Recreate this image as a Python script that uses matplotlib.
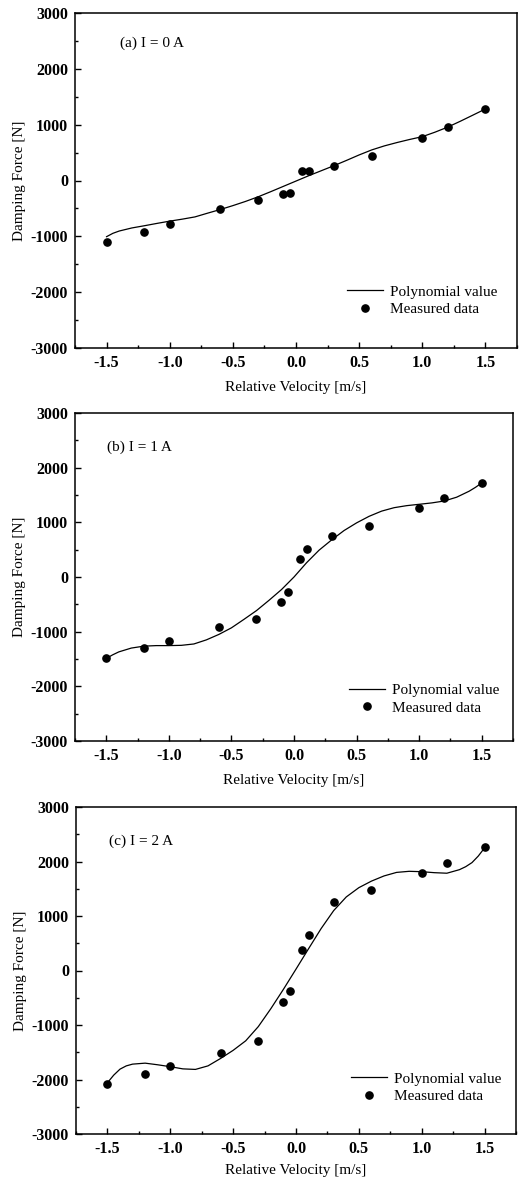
import matplotlib
matplotlib.use('Agg')
import matplotlib.pyplot as plt
from matplotlib.ticker import MultipleLocator, FormatStrFormatter

plt.rcParams['font.family'] = ['Liberation Serif', 'DejaVu Serif']
plt.rcParams['axes.unicode_minus'] = False

# ---- data ----
velocity = [-1.5, -1.2, -1.0, -0.6, -0.3, -0.1, -0.05, 0.05, 0.1, 0.3, 0.6, 1.0, 1.2, 1.5]
measured_0A = [-1107, -922, -785, -511, -355, -247, -218, 165, 170, 260, 439, 756, 964, 1281]
measured_1A = [-1476, -1299, -1165, -921, -762, -457, -280, 329, 506, 744, 933, 1262, 1439, 1725]
measured_2A = [-2077, -1893, -1752, -1514, -1294, -572, -371, 382, 646, 1257, 1477, 1783, 1967, 2261]

# polynomial curves
curve_v_0A = [-1.5, -1.45, -1.4, -1.3, -1.2, -1.1, -1.0, -0.9, -0.8, -0.7, -0.6, -0.5,
              -0.4, -0.3, -0.2, -0.1, 0.0, 0.1, 0.2, 0.3, 0.4, 0.5,
              0.6, 0.7, 0.8, 0.9, 1.0, 1.1, 1.2, 1.3, 1.4, 1.5]
poly_0A = [-1006, -946, -905, -850, -810, -768, -728, -692, -652, -585, -520, -450,
           -375, -292, -200, -105, -10, 85, 175, 265, 360, 458,
           548, 620, 680, 735, 785, 865, 955, 1060, 1170, 1281]

curve_v_1A = [-1.5, -1.45, -1.4, -1.3, -1.2, -1.1, -1.0, -0.9, -0.8, -0.7, -0.6, -0.5,
              -0.4, -0.3, -0.2, -0.1, 0.0, 0.1, 0.2, 0.3, 0.4, 0.5,
              0.6, 0.7, 0.8, 0.9, 1.0, 1.1, 1.2, 1.3, 1.4, 1.45, 1.5]
poly_1A = [-1490, -1425, -1370, -1300, -1265, -1255, -1255, -1250, -1225, -1150, -1050, -930,
           -775, -615, -427, -230, 0, 260, 490, 677, 850, 990,
           1110, 1205, 1268, 1305, 1330, 1355, 1390, 1460, 1570, 1640, 1720]

curve_v_2A = [-1.5, -1.45, -1.4, -1.35, -1.3, -1.2, -1.1, -1.0, -0.9, -0.8, -0.7, -0.6, -0.5,
              -0.4, -0.3, -0.2, -0.1, 0.0, 0.1, 0.2, 0.3, 0.4, 0.5,
              0.6, 0.7, 0.8, 0.9, 1.0, 1.1, 1.2, 1.3, 1.35, 1.4, 1.45, 1.5]
poly_2A = [-2060, -1920, -1810, -1750, -1718, -1700, -1730, -1765, -1805, -1815, -1750, -1614, -1465,
           -1290, -1030, -700, -345, 25, 400, 770, 1100, 1350, 1520,
           1640, 1735, 1800, 1820, 1813, 1795, 1785, 1850, 1905, 1980, 2100, 2250]

panel_labels = ['(a) I = 0 A', '(b) I = 1 A', '(c) I = 2 A']
xticks = [-1.5, -1.0, -0.5, 0.0, 0.5, 1.0, 1.5]
yticks = [-3000, -2000, -1000, 0, 1000, 2000, 3000]

W, H = 519, 1180
fig = plt.figure(figsize=(W / 100, H / 100), dpi=100)

# pixel boxes (left, right, top, bottom)
boxes = [(75, 517, 13, 348), (75, 513, 413, 741), (76, 516, 807, 1134)]
label_pos = [(0.102, 0.9095), (0.073, 0.897), (0.075, 0.894)]
legend_pos = [(0.615, 0.188), (0.625, 0.175), (0.625, 0.190)]
xlabel_pads = [7, 7, 5]

datasets = [(measured_0A, curve_v_0A, poly_0A),
            (measured_1A, curve_v_1A, poly_1A),
            (measured_2A, curve_v_2A, poly_2A)]

for i, ((l, r, t, b), (meas, cv, poly)) in enumerate(zip(boxes, datasets)):
    ax = fig.add_axes([l / W, 1 - b / H, (r - l) / W, (b - t) / H])
    ax.plot(cv, poly, color='black', lw=0.9, label='Polynomial value')
    ax.plot(velocity, meas, 'o', color='black', ms=5.2, label='Measured data')
    ax.set_xlim(-1.75, 1.75)
    ax.set_ylim(-3000, 3000)
    ax.set_xticks(xticks)
    ax.set_yticks(yticks)
    ax.xaxis.set_minor_locator(MultipleLocator(0.25))
    ax.yaxis.set_minor_locator(MultipleLocator(500))
    ax.xaxis.set_major_formatter(FormatStrFormatter('%.1f'))
    ax.tick_params(which='both', direction='in', top=False, right=False,
                   labelsize=11.5, width=1.0)
    ax.tick_params(which='major', length=4.5)
    ax.tick_params(which='minor', length=2.5)
    ax.tick_params(axis='y', pad=5)
    ax.tick_params(axis='x', pad=5)
    for lab in ax.get_xticklabels() + ax.get_yticklabels():
        lab.set_fontweight('bold')
    for sp in ax.spines.values():
        sp.set_linewidth(1.1)
    ax.set_xlabel('Relative Velocity [m/s]', fontsize=11, labelpad=xlabel_pads[i])
    ax.set_ylabel('Damping Force [N]', fontsize=11, labelpad=3)
    ax.text(label_pos[i][0], label_pos[i][1], panel_labels[i], transform=ax.transAxes,
            fontsize=11, ha='left', va='center')
    ax.legend(loc='upper left', bbox_to_anchor=legend_pos[i], frameon=False,
              fontsize=11, borderpad=0, borderaxespad=0, handlelength=2.35,
              handletextpad=0.45, labelspacing=0.25, numpoints=1)

fig.savefig('out.png', dpi=100)
